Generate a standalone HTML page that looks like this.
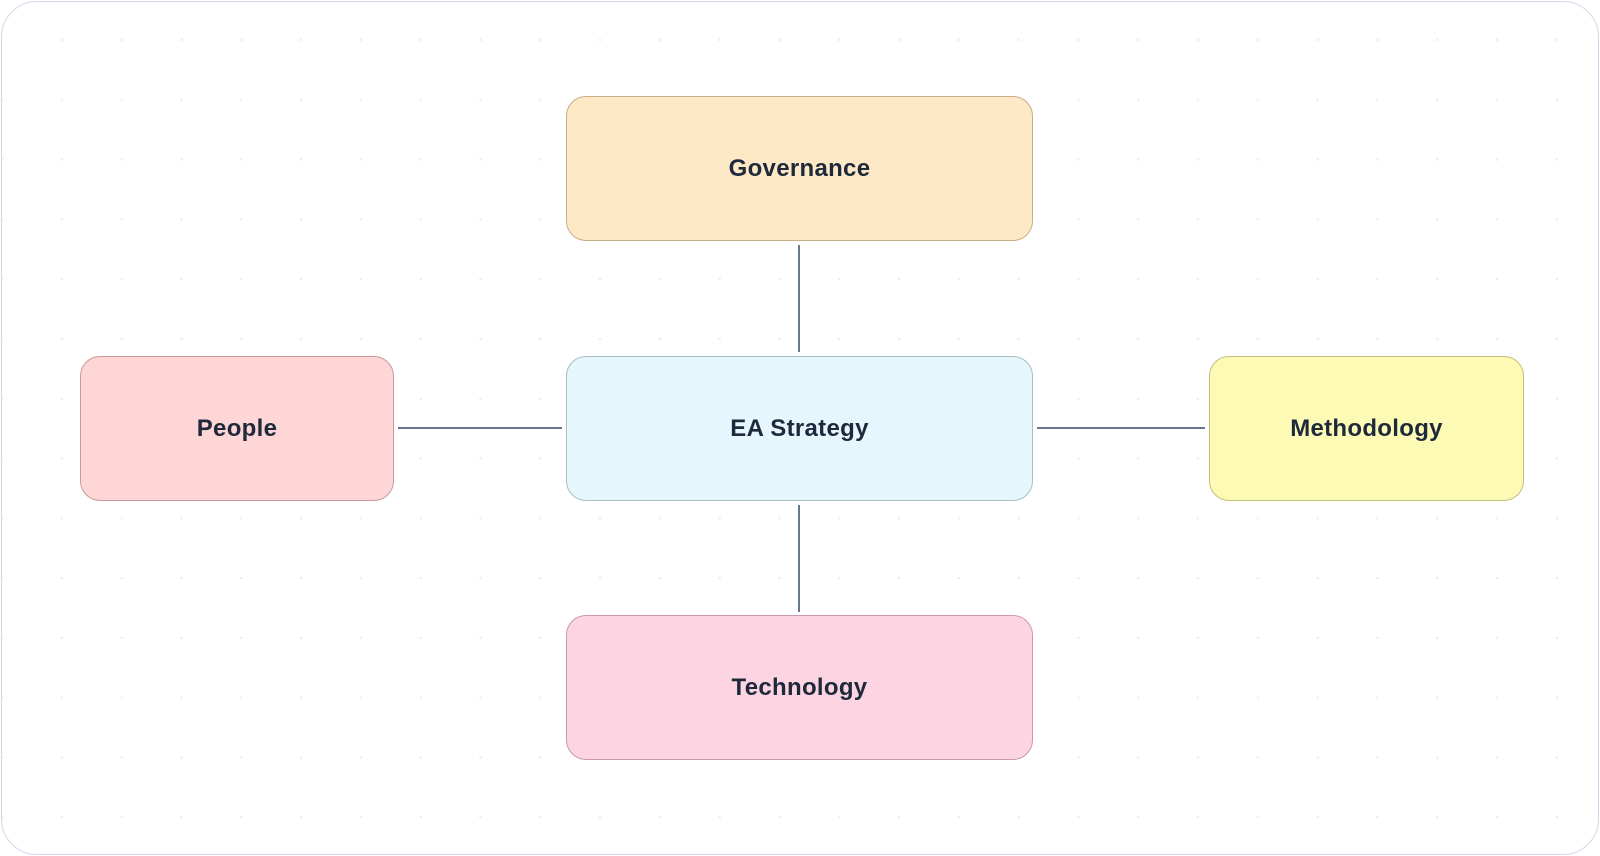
<!DOCTYPE html>
<html><head><style>
html,body{margin:0;padding:0;background:#fff;}
body{width:1600px;height:856px;position:relative;overflow:hidden;font-family:"Liberation Sans",sans-serif;}
.frame{position:absolute;left:1px;top:1px;width:1596px;height:852px;border:1px solid #cfd8ea;border-radius:36px;
background-image:radial-gradient(circle,#eaecf0 1.1px,transparent 1.5px);background-size:59.8px 59.8px;background-position:30px 8px;}
.n{position:absolute;box-sizing:border-box;border-radius:20px;display:flex;align-items:center;justify-content:center;font-size:24px;font-weight:bold;color:#1e293b;letter-spacing:0.3px;}
.l{position:absolute;background:#66788e;}
</style></head><body>
<div class="frame"></div>
<div class="n" style="left:566px;top:96px;width:467px;height:145px;background:#fee9c7;border:1px solid #c9ad85;">Governance</div>
<div class="n" style="left:566px;top:356px;width:467px;height:145px;background:#e5f6fd;border:1px solid #a8bcc6;">EA Strategy</div>
<div class="n" style="left:80px;top:356px;width:314px;height:145px;background:#fed6d6;border:1px solid #c9999b;">People</div>
<div class="n" style="left:1209px;top:356px;width:315px;height:145px;background:#fdfab5;border:1px solid #c2be7c;">Methodology</div>
<div class="n" style="left:566px;top:615px;width:467px;height:145px;background:#fdd5e2;border:1px solid #c999ab;">Technology</div>
<div class="l" style="left:798px;top:245px;width:2px;height:107px;"></div>
<div class="l" style="left:798px;top:505px;width:2px;height:107px;"></div>
<div class="l" style="left:398px;top:427px;width:164px;height:2px;"></div>
<div class="l" style="left:1037px;top:427px;width:168px;height:2px;"></div>
</body></html>
